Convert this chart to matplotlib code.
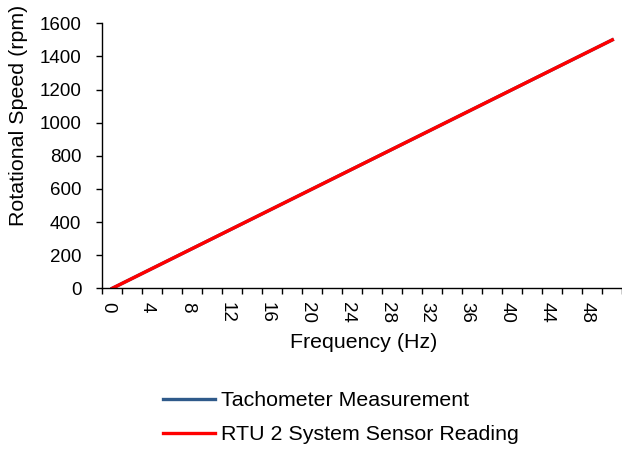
# Rotational speed vs supply frequency: tachometer vs RTU 2 sensor
import numpy as np
import matplotlib.pyplot as plt
import matplotlib.transforms as mtransforms

plt.rcParams['font.family'] = ['Liberation Sans', 'DejaVu Sans']

# -----------------------------------------------------------
# Data
# -----------------------------------------------------------
freq_hz = [0, 2, 4, 6, 8, 10, 12, 14, 16, 18, 20, 22, 24, 26, 28, 30,
           32, 34, 36, 38, 40, 42, 44, 46, 48, 50]
tach_rpm = [0, 60, 120, 180, 240, 300, 360, 420, 480, 540, 600, 660, 720,
            780, 840, 900, 960, 1020, 1080, 1140, 1200, 1260, 1320, 1380,
            1440, 1500]
rtu_rpm = [0, 60, 120, 180, 240, 300, 360, 420, 480, 540, 600, 660, 720,
           780, 840, 900, 960, 1020, 1080, 1140, 1200, 1260, 1320, 1380,
           1440, 1500]
xtick_labels = [0, 4, 8, 12, 16, 20, 24, 28, 32, 36, 40, 44, 48]

# -----------------------------------------------------------
# Plot
# -----------------------------------------------------------
W, H = 622, 450
fig = plt.figure(figsize=(W / 100, H / 100), dpi=100)
ax = fig.add_axes([102.3 / W, 1 - 288.3 / H, 520 / W, 265 / H])

ax.plot(freq_hz, tach_rpm, color='#2F5A8A', linewidth=2.4,
        label='Tachometer Measurement')
ax.plot(freq_hz, rtu_rpm, color='#FF0000', linewidth=2.4,
        label='RTU 2 System Sensor Reading')

ax.set_xlim(-1, 51)
ax.set_ylim(0, 1600)
ax.set_yticks(np.arange(0, 1601, 200))

# category-style x axis: tick marks between points, labels every 4 Hz
ax.set_xticks(xtick_labels)
ax.set_xticklabels([str(v) for v in xtick_labels], rotation=270)
ax.set_xticks(np.arange(-1, 52, 2), minor=True)
ax.tick_params(axis='x', which='major', length=0, pad=9.9, labelsize=13.5)
ax.tick_params(axis='x', which='minor', length=4.5, width=1, direction='out')
ax.tick_params(axis='y', length=4.5, width=1, direction='out', pad=10.5,
               labelsize=13.5)

# nudge rotated labels slightly left, like the original
shift = mtransforms.ScaledTranslation(-5 / 100, 0, fig.dpi_scale_trans)
for lbl in ax.get_xticklabels():
    lbl.set_transform(lbl.get_transform() + shift)

for s in ['top', 'right']:
    ax.spines[s].set_visible(False)
for s in ['left', 'bottom']:
    ax.spines[s].set_linewidth(1)

fig.text(363.5 / W, 1 - 343 / H, 'Frequency (Hz)', fontsize=15.4,
         ha='center', va='center')
fig.text(19 / W, 1 - 115.5 / H, 'Rotational Speed (rpm)', fontsize=15.4,
         rotation=90, ha='center', va='center')

fig.legend(loc='center left', bbox_to_anchor=(162.7 / W, 1 - 417.5 / H),
           frameon=False, fontsize=15.4, handlelength=2.43, labelspacing=0.7,
           handletextpad=0.31, borderpad=0, borderaxespad=0)

plt.savefig('out.png', dpi=100)
